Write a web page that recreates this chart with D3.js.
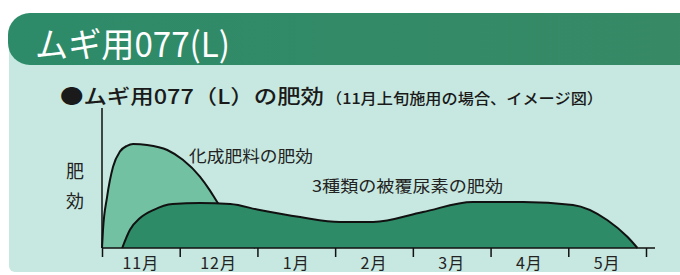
<!DOCTYPE html>
<html>
<head>
<meta charset="utf-8">
<script src="https://cdn.jsdelivr.net/npm/d3@7"></script>
<style>
  body { margin: 0; background: #fff; }
  svg { display: block; font-family: "Noto Sans CJK JP", "Noto Sans", sans-serif; }
</style>
</head>
<body>
<svg id="chart"></svg>
<script>
const months = ["11月", "12月", "1月", "2月", "3月", "4月", "5月"];

// months since Nov 1, relative fertilizer effect (0-100)
const chemMonth = [0, 0.013, 0.064, 0.142, 0.232, 0.322, 0.4, 0.58, 0.84, 1.04, 1.26, 1.39, 1.48, 1.65, 1.84, 1.97];
const chemValue = [0, 13, 36, 58, 69, 73, 74.3, 73.6, 70, 63, 51, 41, 33, 20, 7, 0];

const coatMonth = [0.26, 0.36, 0.49, 0.66, 0.91, 1.26, 1.65, 2.03, 2.55, 3.06, 3.49, 4.13, 4.77, 5.42, 6.06, 6.5, 6.76, 6.89];
const coatValue = [0, 13, 21.4, 27.1, 31.4, 32.1, 31.4, 27.1, 22.1, 18.6, 18.6, 25.7, 32.9, 32.9, 30.7, 20, 8, 0];

const width = 680;
const height = 275;

const svg = d3.select("#chart").attr("width", width).attr("height", height);

// background panels
const defs = svg.append("defs");
const grad = defs.append("linearGradient").attr("id", "head");
grad.append("stop").attr("offset", "0%").attr("stop-color", "#2d8b69");
grad.append("stop").attr("offset", "100%").attr("stop-color", "#388965");

svg.append("rect")
  .attr("x", 9).attr("y", 40).attr("width", 700).attr("height", 232)
  .attr("rx", 6)
  .attr("fill", "#c6e8e0");

svg.append("rect")
  .attr("x", 8).attr("y", 13).attr("width", 720).attr("height", 52)
  .attr("rx", 22)
  .attr("fill", "url(#head)");

svg.append("text")
  .attr("x", 35).attr("y", 57)
  .attr("fill", "#fff")
  .attr("font-size", 34)
  .attr("textLength", 195)
  .attr("lengthAdjust", "spacingAndGlyphs")
  .text("ムギ用077(L)");

svg.append("text")
  .attr("x", 60).attr("y", 104)
  .attr("fill", "#1a1a1a")
  .attr("font-size", 20)
  .attr("font-weight", 500)
  .attr("textLength", 264)
  .attr("lengthAdjust", "spacingAndGlyphs")
  .text("●ムギ用077（L）の肥効");

svg.append("text")
  .attr("x", 326).attr("y", 104)
  .attr("fill", "#1a1a1a")
  .attr("font-size", 15)
  .attr("font-weight", 500)
  .attr("textLength", 277)
  .attr("lengthAdjust", "spacingAndGlyphs")
  .text("（11月上旬施用の場合、イメージ図）");

// scales
const x = d3.scaleLinear().domain([0, 7]).range([102, 646]);
const y = d3.scaleLinear().domain([0, 100]).range([248, 108]);

const area = d3.area()
  .x((d) => x(d[0]))
  .y0(y(0))
  .y1((d) => y(d[1]))
  .curve(d3.curveMonotoneX);

const line = d3.line()
  .x((d) => x(d[0]))
  .y((d) => y(d[1]))
  .curve(d3.curveMonotoneX);

const chem = chemMonth.map((m, i) => [m, chemValue[i]]);
const coat = coatMonth.map((m, i) => [m, coatValue[i]]);

svg.append("path").datum(chem).attr("d", area).attr("fill", "#72c1a3");
svg.append("path").datum(chem).attr("d", line)
  .attr("fill", "none").attr("stroke", "#111").attr("stroke-width", 2);

svg.append("path").datum(coat).attr("d", area).attr("fill", "#2e8b68");
svg.append("path").datum(coat).attr("d", line)
  .attr("fill", "none").attr("stroke", "#111").attr("stroke-width", 2);

// axes
svg.append("line")
  .attr("x1", x(0)).attr("x2", x(0))
  .attr("y1", 108).attr("y2", y(0))
  .attr("stroke", "#111").attr("stroke-width", 1.5);

svg.append("line")
  .attr("x1", x(0)).attr("x2", x(7) + 9)
  .attr("y1", y(0)).attr("y2", y(0))
  .attr("stroke", "#111").attr("stroke-width", 1.5);

const axis = svg.append("g")
  .attr("transform", `translate(0, ${y(0)})`)
  .call(d3.axisBottom(x).tickValues(d3.range(0, 8)).tickSize(9).tickFormat(""));
axis.select(".domain").remove();
axis.selectAll(".tick line").attr("stroke", "#111").attr("stroke-width", 1.5);

svg.append("g")
  .selectAll("text")
  .data(months)
  .enter()
  .append("text")
  .attr("x", (d, i) => x(i + 0.5))
  .attr("y", 269)
  .attr("text-anchor", "middle")
  .attr("font-size", 16)
  .attr("fill", "#222")
  .attr("letter-spacing", 1)
  .text((d) => d);

// labels
svg.append("text").attr("x", 75).attr("y", 178).attr("text-anchor", "middle")
  .attr("font-size", 18).attr("fill", "#222").text("肥");
svg.append("text").attr("x", 75).attr("y", 208).attr("text-anchor", "middle")
  .attr("font-size", 18).attr("fill", "#222").text("効");

svg.append("text").attr("x", 189).attr("y", 162)
  .attr("font-size", 16).attr("fill", "#222")
  .attr("textLength", 124).attr("lengthAdjust", "spacingAndGlyphs")
  .text("化成肥料の肥効");

svg.append("text").attr("x", 312).attr("y", 192)
  .attr("font-size", 16).attr("fill", "#222")
  .attr("textLength", 191).attr("lengthAdjust", "spacingAndGlyphs")
  .text("3種類の被覆尿素の肥効");
</script>
</body>
</html>
